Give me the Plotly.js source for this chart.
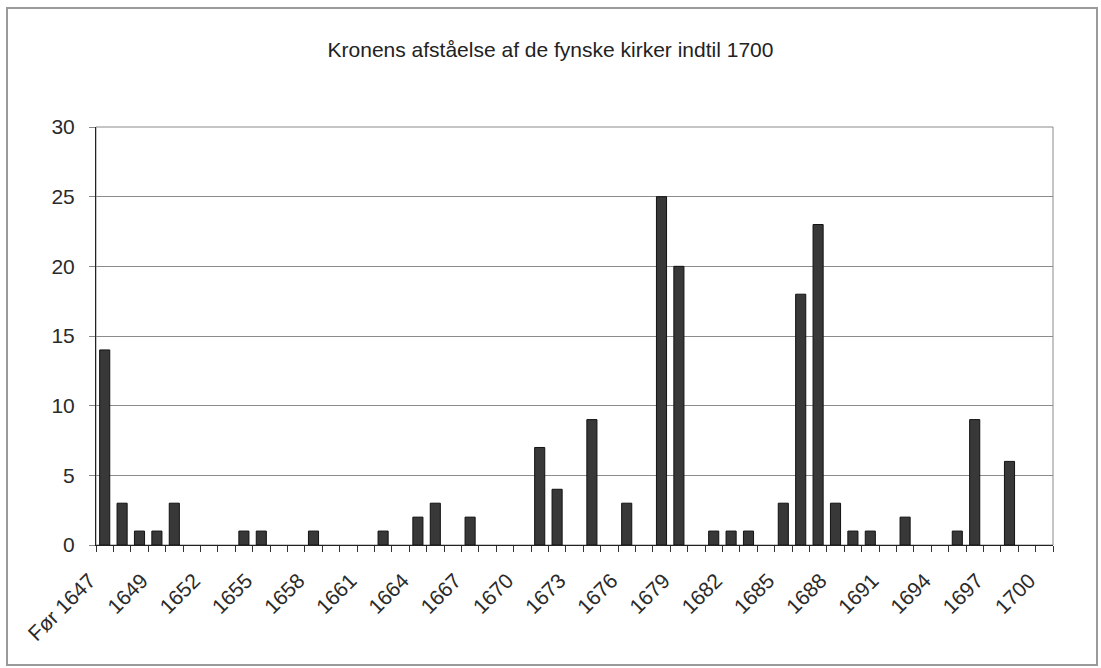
<!DOCTYPE html>
<html>
<head>
<meta charset="utf-8">
<script src="https://cdn.plot.ly/plotly-3.0.1.min.js"></script>
<style>
html,body{margin:0;padding:0;background:#fff;}
#chart{width:1101px;height:668px;}
</style>
</head>
<body>
<div id="chart"></div>
<script>
var categories = ["Før 1647","1647","1648","1649","1650","1651","1652","1653","1654","1655",
  "1656","1657","1658","1659","1660","1661","1662","1663","1664","1665",
  "1666","1667","1668","1669","1670","1671","1672","1673","1674","1675",
  "1676","1677","1678","1679","1680","1681","1682","1683","1684","1685",
  "1686","1687","1688","1689","1690","1691","1692","1693","1694","1695",
  "1696","1697","1698","1699","1700"];
var values = [14,3,1,1,3,0,0,0,1,1,
  0,0,1,0,0,0,1,0,2,3,
  0,2,0,0,0,7,4,0,9,0,
  3,0,25,20,0,1,1,1,0,3,
  18,23,3,1,1,0,2,0,0,1,
  9,0,6,0,0];
var shownLabels = ["Før 1647","1649","1652","1655","1658","1661","1664","1667","1670","1673",
  "1676","1679","1682","1685","1688","1691","1694","1697","1700"];
var yTicks = [0,5,10,15,20,25,30];
var chartTitle = "Kronens afståelse af de fynske kirker indtil 1700";

var tickText = categories.map(function(c){ return shownLabels.indexOf(c) >= 0 ? c : ""; });
var lineWidths = values.map(function(v){ return v > 0 ? 1 : 0; });

var W = 1101, H = 668, L = 96, R = 48, T = 127, B = 123;
var pw = W - L - R, ph = H - T - B;
function px(x){ return (x - L) / pw; }
function py(y){ return (H - B - y) / ph; }

var trace = {
  type: "bar",
  x: categories,
  y: values,
  marker: {color: "#383838", line: {color: "#121212", width: lineWidths}},
  hoverinfo: "x+y"
};

var layout = {
  width: W, height: H,
  margin: {l: L, r: R, t: T, b: B, pad: 0},
  paper_bgcolor: "#ffffff",
  plot_bgcolor: "#ffffff",
  font: {family: "Liberation Sans, Arial, sans-serif", color: "#2a2a2a"},
  title: {text: chartTitle, font: {size: 21, color: "#222"}, x: 0.5, xanchor: "center", y: 1 - 50/H, yanchor: "middle"},
  bargap: 0.42,
  showlegend: false,
  xaxis: {
    type: "category",
    range: [-0.5, categories.length - 0.5],
    tickmode: "array",
    tickvals: categories,
    ticktext: tickText,
    tickangle: -45,
    tickson: "boundaries",
    ticks: "outside",
    ticklen: 6,
    tickcolor: "#333",
    tickfont: {size: 21, color: "#2a2a2a"},
    ticklabelstandoff: 14,
    ticklabelshift: -15,
    showline: true,
    linecolor: "#222",
    linewidth: 1,
    showgrid: false,
    zeroline: false
  },
  yaxis: {
    range: [0, 30],
    tickmode: "array",
    tickvals: yTicks,
    ticks: "outside",
    ticklen: 6,
    tickcolor: "#888",
    tickfont: {size: 21, color: "#2a2a2a"},
    ticklabelstandoff: 10,
    showline: true,
    linecolor: "#222",
    linewidth: 1,
    showgrid: true,
    gridcolor: "#8c8c8c",
    gridwidth: 1,
    zeroline: false
  },
  shapes: [
    {type: "rect", xref: "paper", yref: "paper", x0: 0, x1: 1, y0: 0, y1: 1,
     line: {color: "#8a8a8a", width: 1}, fillcolor: "rgba(0,0,0,0)", layer: "below"},
    {type: "rect", xref: "paper", yref: "paper", x0: px(7), x1: px(1097), y0: py(665), y1: py(8),
     line: {color: "#9a9a9a", width: 2}, fillcolor: "rgba(0,0,0,0)", layer: "below"}
  ]
};

Plotly.newPlot("chart", [trace], layout, {displayModeBar: false, staticPlot: true});
</script>
</body>
</html>
